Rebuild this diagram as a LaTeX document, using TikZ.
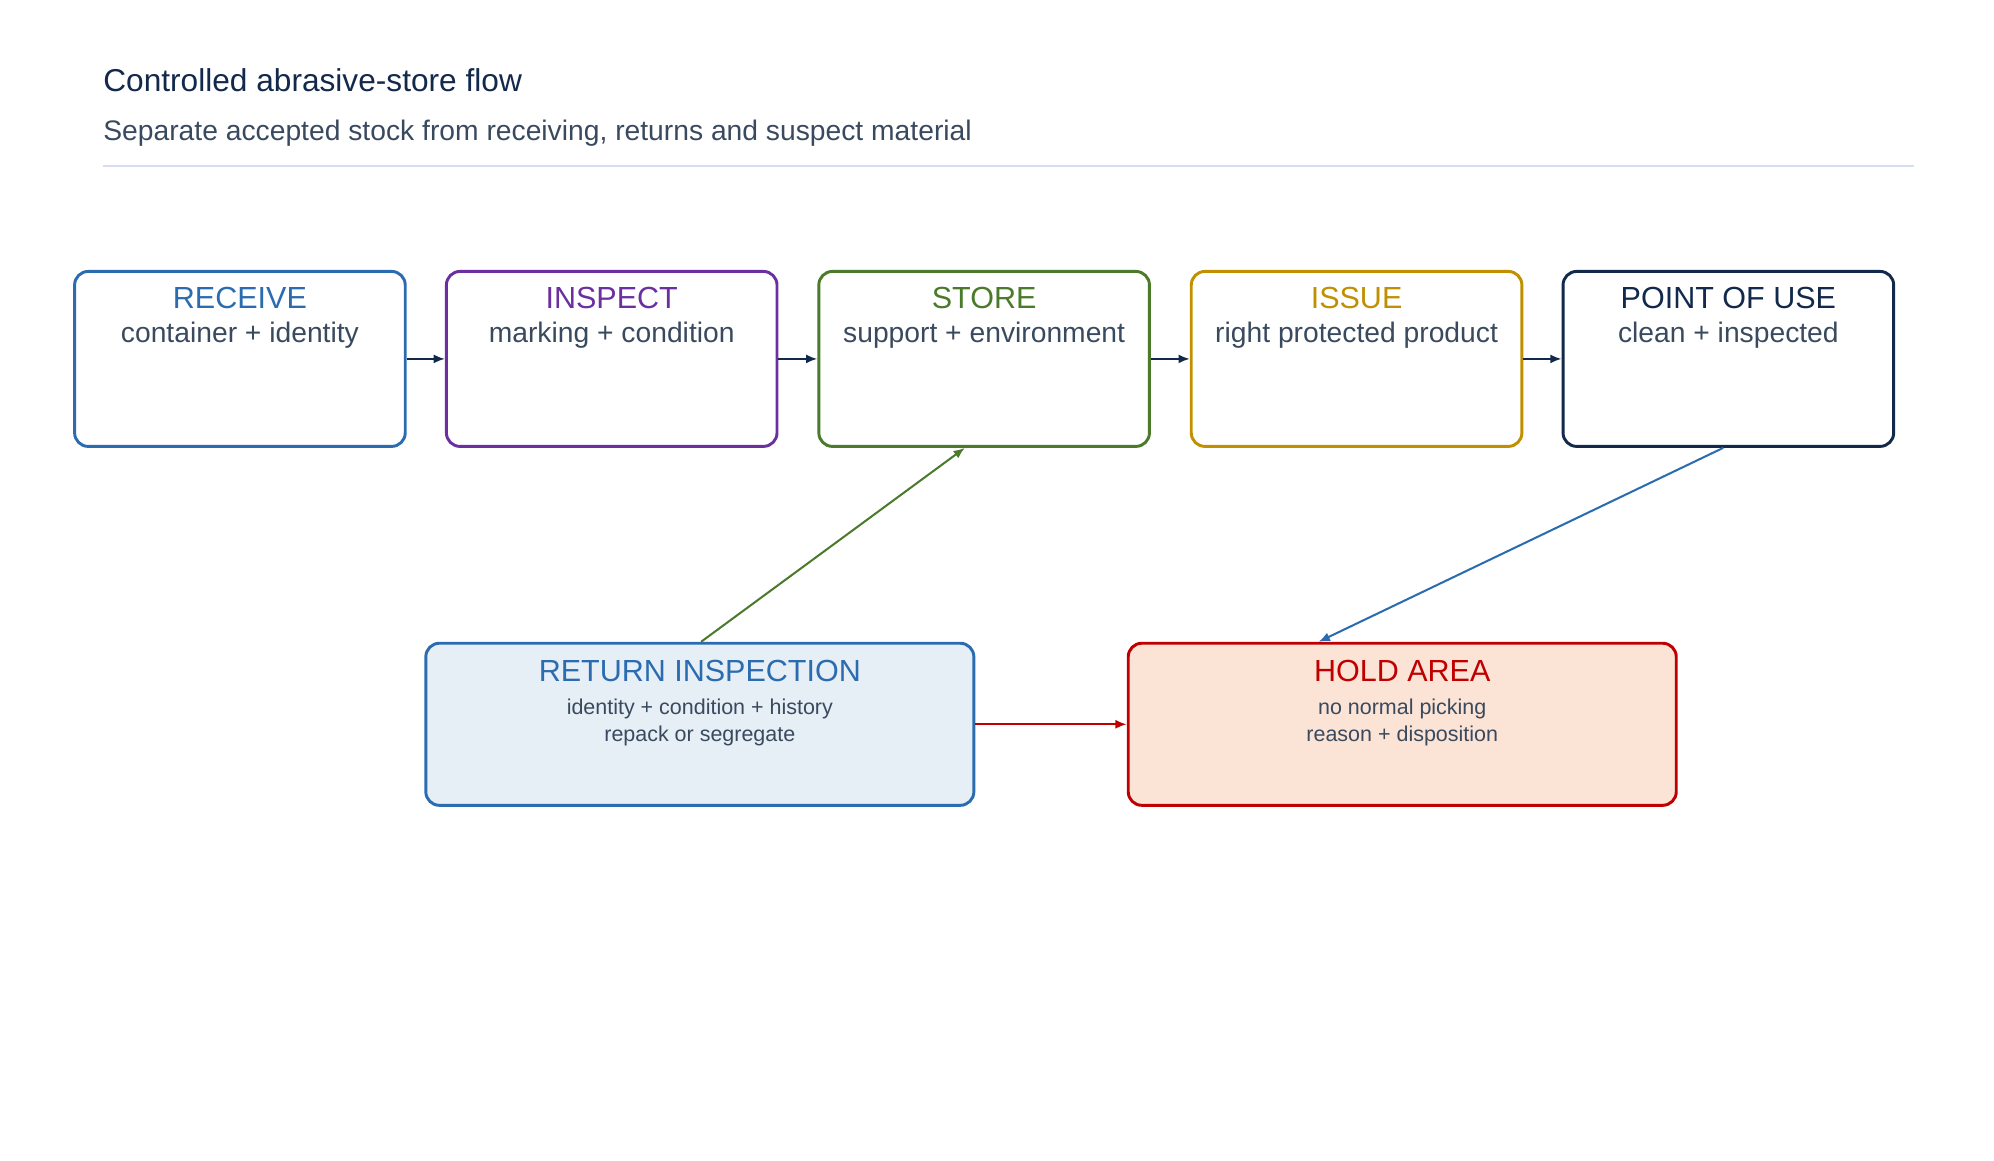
\documentclass[tikz,border=0pt]{standalone}
\usepackage{fontspec}
\setmainfont{Liberation Sans}
\usetikzlibrary{positioning,arrows.meta}
\definecolor{cblue}{HTML}{2B6CB0}
\definecolor{cpurple}{HTML}{6B2FA0}
\definecolor{cgreen}{HTML}{4A7A2A}
\definecolor{cgold}{HTML}{C09000}
\definecolor{cnavy}{HTML}{13294B}
\definecolor{cred}{HTML}{C00000}
\definecolor{ctext}{HTML}{3A4A5E}
\definecolor{crule}{HTML}{D6DCF2}
\definecolor{holdfill}{HTML}{FBE3D6}
\definecolor{retfill}{HTML}{E6EEF6}
\tikzset{
  stagebox/.style={draw=#1, line width=1.3pt, rounded corners=6pt,
    minimum width=257*0.02cm, minimum height=136*0.02cm, inner sep=0pt},
  sidebox/.style={stagebox=#1, minimum width=426*0.02cm, minimum height=126*0.02cm},
  head/.style={text=#1, font=\fontsize{13.5}{15}\selectfont, inner sep=0pt},
  body/.style={text=ctext, font=\fontsize{12.5}{14}\selectfont, inner sep=0pt},
  small/.style={text=ctext, font=\fontsize{9.5}{12}\selectfont, align=center, inner sep=0pt},
  flow/.style={-{Latex[length=5pt,width=4pt]}, line width=0.9pt, draw=#1},
}
\begin{document}
\begin{tikzpicture}[x=0.02cm,y=0.02cm]
  \useasboundingbox (0,0) rectangle (1550,-902);

  % heading
  \node[anchor=base west, text=cnavy, font=\fontsize{14}{16}\selectfont, inner sep=0pt]
    (title) at (80,-71) {Controlled abrasive-store flow};
  \node[anchor=base west, text=ctext, font=\fontsize{12.5}{14}\selectfont, inner sep=0pt]
    (subtitle) at (80,-109) {Separate accepted stock from receiving, returns and suspect material};
  \draw[crule, line width=0.8pt] (80,-129) -- (1488,-129);

  % stages
  \node[stagebox=cblue]   (receive) at (186.5,-279) {};
  \node[stagebox=cpurple] (inspect) at (475.5,-279) {};
  \node[stagebox=cgreen]  (store)   at (765,-279) {};
  \node[stagebox=cgold]   (issue)   at (1054.5,-279) {};
  \node[stagebox=cnavy]   (use)     at (1343.5,-279) {};

  \node[head=cblue]   at ([yshift=-22*0.02cm]receive.north) {RECEIVE};
  \node[body]         at ([yshift=-51*0.02cm]receive.north) {container + identity};
  \node[head=cpurple] at ([yshift=-22*0.02cm]inspect.north) {INSPECT};
  \node[body]         at ([yshift=-51*0.02cm]inspect.north) {marking + condition};
  \node[head=cgreen]  at ([yshift=-22*0.02cm]store.north) {STORE};
  \node[body]         at ([yshift=-51*0.02cm]store.north) {support + environment};
  \node[head=cgold]   at ([yshift=-22*0.02cm]issue.north) {ISSUE};
  \node[body]         at ([yshift=-51*0.02cm]issue.north) {right protected product};
  \node[head=cnavy]   at ([yshift=-22*0.02cm]use.north) {POINT OF USE};
  \node[body]         at ([yshift=-51*0.02cm]use.north) {clean + inspected};

  % side areas
  \node[sidebox=cblue, fill=retfill] (return) at (544,-563) {};
  \node[sidebox=cred, fill=holdfill] (hold)   at (1090,-563) {};
  \node[head=cblue] at ([yshift=-23*0.02cm]return.north) {RETURN INSPECTION};
  \node[small]      at ([yshift=-63*0.02cm]return.north) {identity + condition + history\\repack or segregate};
  \node[head=cred]  at ([yshift=-23*0.02cm]hold.north) {HOLD AREA};
  \node[small]      at ([yshift=-63*0.02cm]hold.north) {no normal picking\\reason + disposition};

  % connectors
  \foreach \a/\b in {receive/inspect, inspect/store, store/issue, issue/use}
    \draw[flow=cnavy] (\a.east) -- (\b.west);
  \draw[flow=cgreen] ([xshift=1*0.02cm]return.north) -- ([xshift=-15*0.02cm]store.south);
  \draw[flow=cblue] ([xshift=-4*0.02cm]use.south) -- ([xshift=-65*0.02cm]hold.north);
  \draw[flow=cred] (return.east) -- (hold.west);
\end{tikzpicture}
\end{document}
